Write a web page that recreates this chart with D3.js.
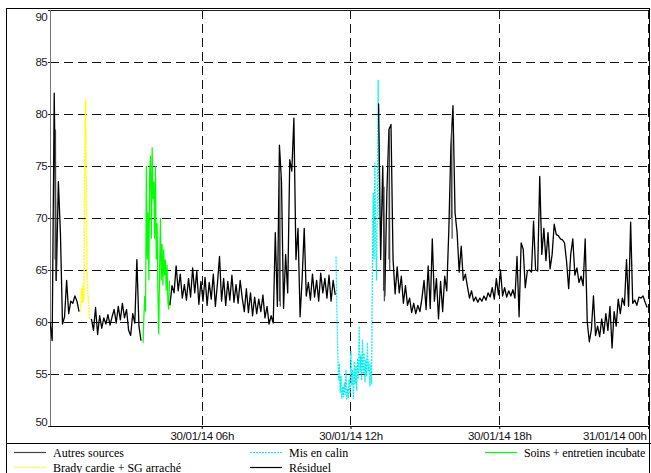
<!DOCTYPE html>
<html><head><meta charset="utf-8">
<script src="https://cdn.jsdelivr.net/npm/d3@7"></script>
<style>body{margin:0;background:#fff}svg{display:block}</style>
</head><body><svg id="c" width="651" height="473"></svg>
<script>
// ---------------- data ----------------
const yTicks = [50, 55, 60, 65, 70, 75, 80, 85, 90];
const xTickTimes = ["2014-01-30T06:00", "2014-01-30T12:00", "2014-01-30T18:00", "2014-01-31T00:00"];
const xTickLabels = ["30/01/14 06h", "30/01/14 12h", "30/01/14 18h", "31/01/14 00h"];
const xDomain = ["2014-01-29T23:52:45", "2014-01-31T00:00:00"];

const legendLabels = ["Autres sources", "Brady cardie + SG arraché", "Mis en calin", "Résiduel", "Soins + entretien incubate"];

// Résiduel : one value every 5 minutes (null = no residual signal)
const residuelStart = "2014-01-29T23:53:00";
const residuelStep = 5;
const residuelValues = [
  60.0, 58.2, 82.0, 64.0, 73.5, 68.5, 59.8, 60.5, 64.0, 60.8,
  62.0, 61.8, 62.5, 62.0, 61.0, null, null, null, null, null,
  60.3, 59.2, 61.4, 58.8, 60.6, 59.4, 60.4, 59.8, 60.7, 59.7,
  60.5, 61.2, 59.9, 61.5, 60.2, 61.8, 60.4, 61.2, 59.2, 58.7,
  60.8, 59.9, 66.0, 59.6, 58.2, null, null, null, null, null,
  null, null, null, null, null, null, null, null, 61.6, 63.5,
  62.8, 65.4, 63.0, 64.6, 62.3, 63.6, 62.1, 64.2, 62.4, 65.2,
  62.8, 64.9, 61.7, 63.9, 62.0, 64.3, 61.6, 63.8, 62.2, 64.6,
  61.5, 63.7, 66.3, 62.0, 64.2, 61.6, 63.9, 62.1, 64.5, 61.9,
  63.6, 61.8, 64.0, 62.3, 61.0, 63.2, 60.9, 62.8, 60.6, 62.4,
  60.8, 62.2, 61.0, 62.6, 60.4, 61.5, 59.8, 60.6, 59.9, 68.6,
  61.5, 77.0, 73.5, 61.3, 66.5, 62.8, 75.6, 74.5, 79.6, 66.0,
  69.0, 60.5, 64.2, 69.0, 62.5, 63.8, 62.1, 64.6, 62.4, 64.0,
  62.0, 64.7, 62.8, 64.2, 62.3, 64.5, 62.0, 64.0, 62.6, null,
  null, null, null, null, null, null, null, null, null, null,
  null, null, null, null, null, null, null, null, null, 81.0,
  66.0, 75.0, 62.5, 72.4, 78.5, 79.0, 66.0, 62.7, 65.3, 62.8,
  64.4, 61.8, 63.5, 61.6, 62.3, 60.9, 61.8, 60.8, 61.6, 61.0,
  62.3, 64.0, 61.2, 65.4, 61.3, 68.0, 62.0, 64.2, 60.3, 63.9,
  61.0, 64.4, 63.0, 68.9, 76.9, 80.8, 70.5, 68.6, 64.8, 67.3,
  64.0, 64.6, 63.4, 62.3, 63.0, 62.0, 62.4, 61.9, 62.3, 62.0,
  62.5, 62.1, 62.8, 62.4, 63.3, 62.2, 64.2, 62.6, 65.0, 62.5,
  63.3, 62.4, 63.0, 62.5, 63.1, 62.3, 66.3, 60.5, 67.6, 67.0,
  63.3, 64.9, 65.0, 64.8, 69.7, 65.0, 64.9, 74.0, 66.5, 69.0,
  65.9, 68.6, 65.1, 66.5, 69.4, 68.4, 68.3, 68.0, 67.9, 67.6,
  65.8, 63.2, 66.5, 68.0, 64.5, 65.2, 63.8, 64.4, 63.5, 68.0,
  60.0, 58.1, 59.3, 62.5, 58.7, 59.6, 58.6, 60.3, 58.9, 60.8,
  59.2, 61.5, 57.5, 61.0, 59.6, 62.2, 60.8, 62.3, 61.6, 66.0,
  61.5, 69.6, 61.8, 62.1, 61.6, 62.4, 62.3, 62.5, 61.9, 61.4
];

// Brady cardie + SG arraché : every 2 minutes
const bradyStart = "2014-01-30T01:07:00";
const bradyStep = 2;
const bradyValues = [61.0, 63.2, 61.8, 63.6, 62.0, 76.5, 81.4, 70.0, 64.0, 62.5, 61.0, 60.2];

// Soins + entretien incubateur : every 2 minutes
const soinsStart = "2014-01-30T03:38:00";
const soinsStep = 2;
const soinsValues = [58.0, 60.5, 62.5, 61.0, 75.0, 66.0, 70.5, 64.0, 74.5, 76.0,
  68.0, 76.8, 71.8, 73.5, 68.0, 75.0, 66.0, 69.5, 62.5, 58.8,
  65.0, 70.0, 64.0, 67.5, 63.5, 67.0, 64.5, 66.0, 63.0, 65.5,
  62.0, 61.2, 64.0];

// Mis en calin : every 2 minutes
const calinStart = "2014-01-30T11:25:00";
const calinStep = 2;
const calinValues = [66.3, 61.0, 57.5, 54.4, 56.0, 53.2, 54.8, 52.6, 53.8, 52.8,
  54.2, 53.0, 55.4, 52.5, 53.6, 52.7, 54.5, 53.1, 57.2, 53.9,
  55.4, 52.6, 56.2, 54.0, 55.8, 53.4, 56.5, 54.6, 59.6, 55.2,
  56.8, 54.4, 58.3, 55.0, 57.0, 54.2, 56.4, 54.8, 58.0, 55.3,
  56.2, 53.8, 56.0, 54.0, 65.0, 72.4, 66.0, 75.3, 68.0, 64.0,
  72.0, 83.3, 70.0];

// Autres sources : short bursts, every minute
const autresStarts = ["2014-01-30T00:05:00", "2014-01-30T09:08:00", "2014-01-30T13:20:00", "2014-01-30T13:33:00", "2014-01-30T16:04:00"];
const autresStep = 1;
const autresValues = [[66, 78.5, 64], [62, 74, 61.5], [63, 73, 62], [66, 78.5, 65], [70, 79, 68]];

// ---------------- drawing ----------------
const parse = d3.timeParse("%Y-%m-%dT%H:%M:%S");
const parseM = d3.timeParse("%Y-%m-%dT%H:%M");
function series(start, step, vals) {
  const t0 = parse(start);
  return vals.map((v, i) => ({t: d3.timeMinute.offset(t0, i * step), v}));
}

const L = 50, R = 648, T = 10, B = 426;
const svg = d3.select("#c");
const x = d3.scaleTime().domain(xDomain.map(parse)).range([L, R]);
const y = d3.scaleLinear().domain([50, 90]).range([B, T]);
const sansFont = "'Liberation Sans', Arial, sans-serif";
const serifFont = "'Liberation Serif', 'Times New Roman', serif";

// outer frame
svg.append("rect").attr("x", 6.5).attr("y", 8.5).attr("width", 643).attr("height", 480)
  .attr("fill", "none").attr("stroke", "#000").attr("stroke-width", 1);

// clip
svg.append("defs").append("clipPath").attr("id", "plotClip")
  .append("rect").attr("x", L).attr("y", T).attr("width", R - L).attr("height", B - T);

// grid
const grid = svg.append("g");
grid.selectAll("line.h").data(yTicks.filter(d => d > 50 && d < 90)).join("line")
  .attr("x1", L).attr("x2", R).attr("y1", d => Math.round(y(d)) + 0.5).attr("y2", d => Math.round(y(d)) + 0.5)
  .attr("stroke", "#111").attr("stroke-dasharray", "9,5");
const xt = xTickTimes.map(parseM);
grid.selectAll("line.v").data(xt).join("line")
  .attr("x1", d => Math.round(x(d)) + 0.5).attr("x2", d => Math.round(x(d)) + 0.5)
  .attr("y1", T).attr("y2", B)
  .attr("stroke", "#111").attr("stroke-dasharray", "9,5");

// plot frame
svg.append("line").attr("x1", L).attr("x2", R).attr("y1", T + 0.5).attr("y2", T + 0.5).attr("stroke", "#222");
svg.append("line").attr("x1", L + 0.5).attr("x2", L + 0.5).attr("y1", T).attr("y2", B).attr("stroke", "#777");
svg.append("line").attr("x1", L).attr("x2", R + 1).attr("y1", B + 0.5).attr("y2", B + 0.5).attr("stroke", "#000");

// series
const line = d3.line().defined(d => d.v != null).x(d => x(d.t)).y(d => y(d.v));
const plot = svg.append("g").attr("clip-path", "url(#plotClip)");
plot.append("path").datum(series(bradyStart, bradyStep, bradyValues)).attr("d", line)
  .attr("fill", "none").attr("stroke", "#ffff00").attr("stroke-width", 1.5).attr("stroke-dasharray", "2,1");
plot.append("path").datum(series(soinsStart, soinsStep, soinsValues)).attr("d", line)
  .attr("fill", "none").attr("stroke", "#00ff00").attr("stroke-width", 1.2);
plot.append("path").datum(series(calinStart, calinStep, calinValues)).attr("d", line)
  .attr("fill", "none").attr("stroke", "#00f0f0").attr("stroke-width", 1.2).attr("stroke-dasharray", "2,1");
plot.append("path").datum(series(residuelStart, residuelStep, residuelValues)).attr("d", line)
  .attr("fill", "none").attr("stroke", "#000").attr("stroke-width", 1.3).attr("stroke-linejoin", "round");
autresStarts.forEach((s, k) => {
  plot.append("path").datum(series(s, autresStep, autresValues[k])).attr("d", line)
    .attr("fill", "none").attr("stroke", "#444").attr("stroke-width", 1.2);
});

// y axis
const yAxis = svg.append("g").attr("transform", `translate(${L},0)`)
  .call(d3.axisLeft(y).tickValues(yTicks).tickSize(2).tickPadding(1).tickFormat(d3.format("d")));
yAxis.select(".domain").remove();
yAxis.selectAll("line").attr("stroke", "#222");
yAxis.selectAll("text").attr("font-family", sansFont).attr("font-size", 11.5).attr("fill", "#222")
  .attr("letter-spacing", -0.6)
  .attr("dy", d => d === 90 ? "0.95em" : d === 50 ? "-0.02em" : "0.32em");

// x axis
const xAxis = svg.append("g").attr("transform", `translate(0,${B})`)
  .call(d3.axisBottom(x).tickValues(xt).tickSize(3).tickPadding(3).tickFormat((d, i) => xTickLabels[i]));
xAxis.select(".domain").remove();
xAxis.selectAll("line").attr("stroke", "#000");
xAxis.selectAll("text").attr("font-family", sansFont).attr("font-size", 11.5).attr("fill", "#111")
  .attr("letter-spacing", -0.3)
  .attr("text-anchor", (d, i) => i === xt.length - 1 ? "end" : "middle")
  .attr("x", (d, i) => i === xt.length - 1 ? -2 : 0);

// legend
svg.append("line").attr("x1", 6).attr("x2", 651).attr("y1", 443.5).attr("y2", 443.5).attr("stroke", "#000").attr("stroke-width", 1.2);
const legendItems = [
  {label: legendLabels[0], color: "#444", dash: null, lx: 14, row: 0},
  {label: legendLabels[1], color: "#ffff00", dash: "2,1", lx: 14, row: 1},
  {label: legendLabels[2], color: "#00f0f0", dash: "2,1", lx: 250, row: 0},
  {label: legendLabels[3], color: "#000", dash: null, lx: 250, row: 1},
  {label: legendLabels[4], color: "#00ff00", dash: null, lx: 485, row: 0}
];
const leg = svg.append("g");
const li = leg.selectAll("g").data(legendItems).join("g");
li.append("line").attr("x1", d => d.lx).attr("x2", d => d.lx + 32)
  .attr("y1", d => 452.5 + d.row * 15).attr("y2", d => 452.5 + d.row * 15)
  .attr("stroke", d => d.color).attr("stroke-width", 1.2).attr("stroke-dasharray", d => d.dash);
li.append("text").attr("x", d => d.lx + 39).attr("y", d => 457 + d.row * 14.5)
  .attr("font-family", serifFont).attr("font-size", 12).attr("fill", "#000")
  .attr("letter-spacing", d => d.row === 0 && d.lx === 485 ? -0.15 : 0)
  .text(d => d.label);
</script></body></html>
